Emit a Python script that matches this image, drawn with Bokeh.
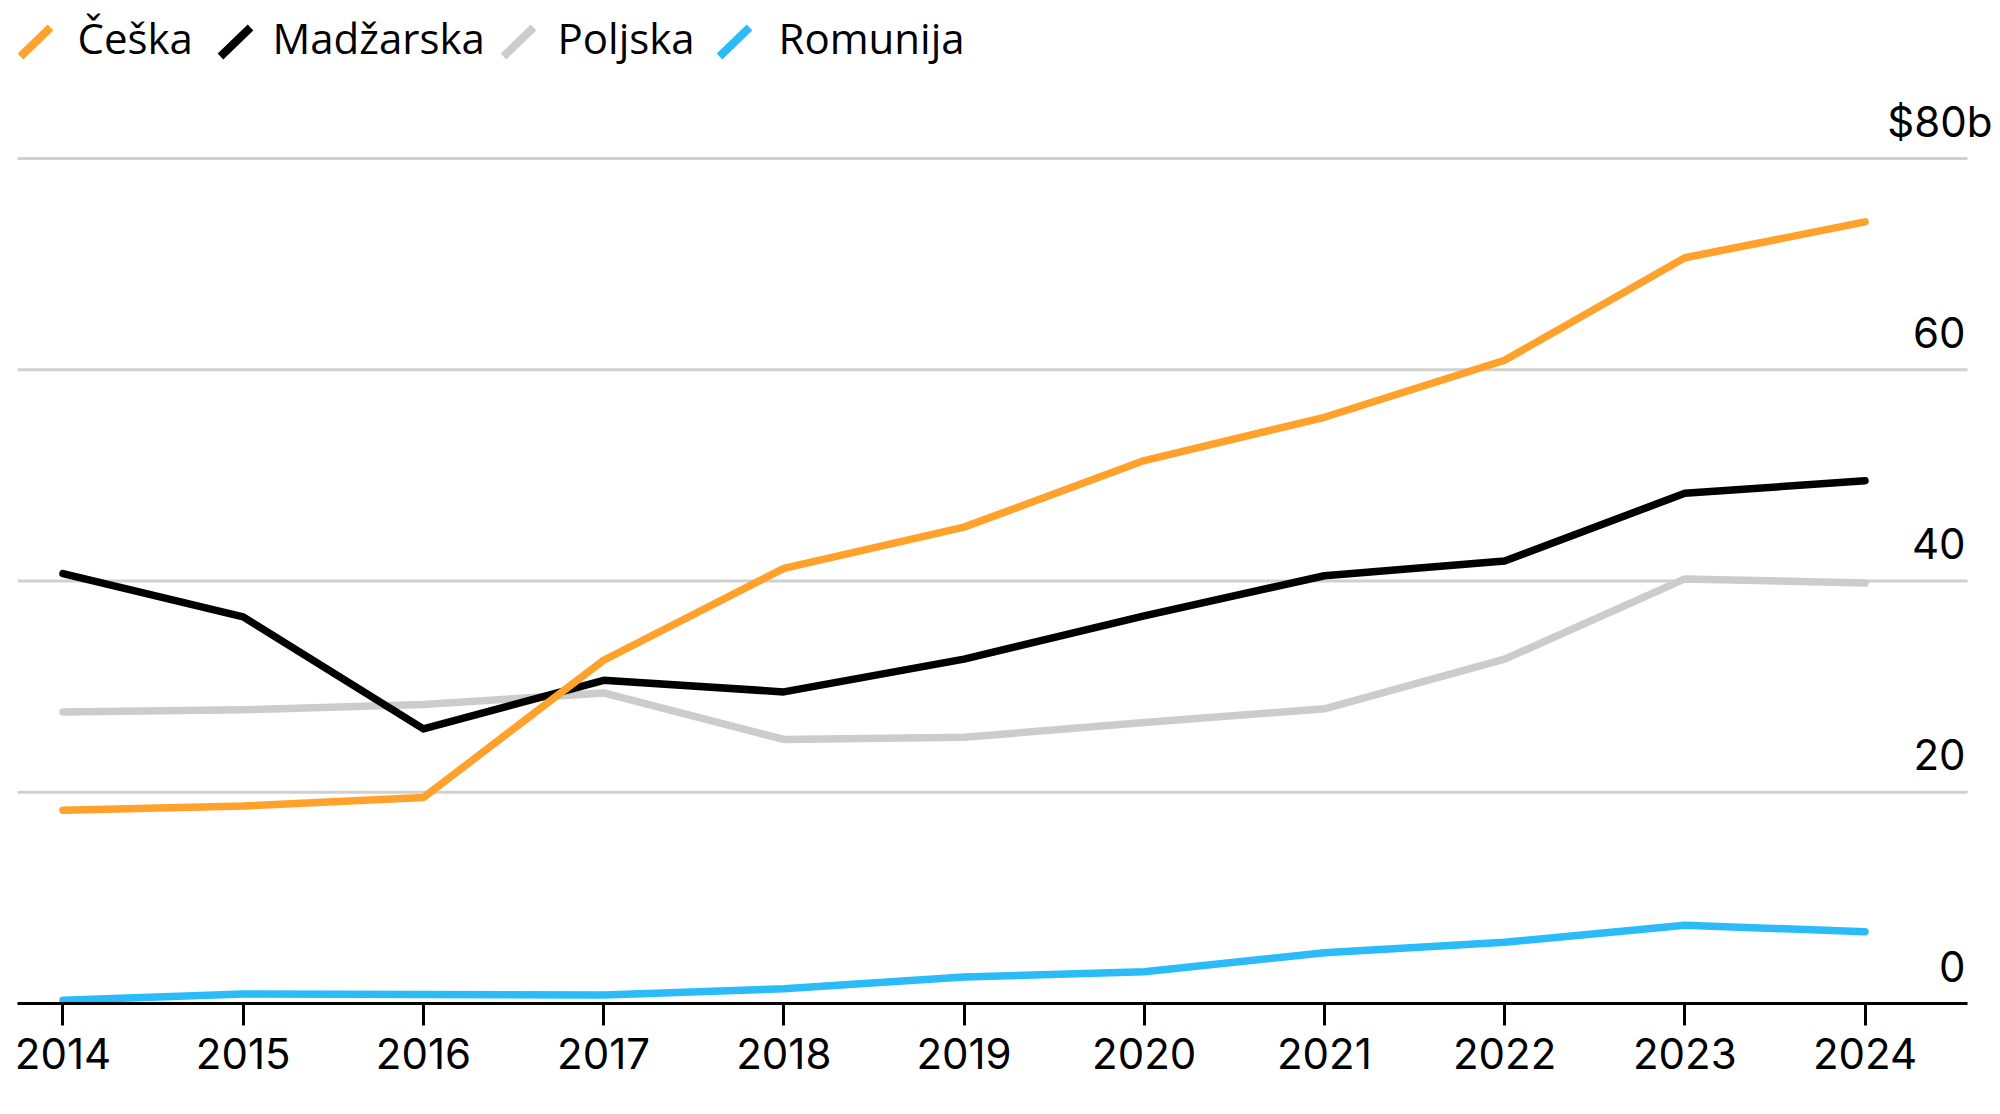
from bokeh.plotting import figure
from bokeh.models import (ColumnDataSource, Range1d, FixedTicker, LabelSet)
from bokeh.layouts import column
from bokeh.core.properties import value
from bokeh.embed import file_html
from bokeh.resources import INLINE

# ---------------- data ----------------
years = [2014, 2015, 2016, 2017, 2018, 2019, 2020, 2021, 2022, 2023, 2024]
year_labels = [str(y) for y in years]

ceska = [18.3, 18.7, 19.5, 32.5, 41.2, 45.1, 51.4, 55.5, 60.9, 70.6, 74.0]
madzarska = [40.7, 36.6, 26.0, 30.6, 29.5, 32.6, 36.7, 40.5, 41.9, 48.3, 49.5]
poljska = [27.6, 27.8, 28.3, 29.4, 25.0, 25.2, 26.6, 27.9, 32.6, 40.2, 39.8]
romunija = [0.3, 0.9, 0.85, 0.8, 1.4, 2.5, 3.0, 4.8, 5.8, 7.4, 6.8]

series_names = ["Češka", "Madžarska", "Poljska", "Romunija"]
series_colors = ["#FFA12B", "#000000", "#CCCCCC", "#2BBBF9"]

y_ticks = [0, 20, 40, 60, 80]
y_tick_labels = ["0", "20", "40", "60", "$80b"]

TOTAL_W = 1992
LEFT = 17
FRAME_W = TOTAL_W - LEFT

# ---------------- legend (separate strip above the chart) ----------------
LEG_H = 88
leg = figure(frame_width=FRAME_W, frame_height=LEG_H, output_backend="svg",
             toolbar_location=None,
             x_range=Range1d(LEFT, TOTAL_W), y_range=Range1d(LEG_H, 0),
             x_axis_location=None, y_axis_location=None,
             min_border_left=LEFT, min_border_right=0, min_border_top=0,
             min_border_bottom=0, outline_line_color=None)
leg.grid.visible = False

swatch_left = [17, 217, 500, 716]
text_left = [77, 272, 557, 778]
leg_src = ColumnDataSource(dict(
    x0=[s + 3 for s in swatch_left], x1=[s + 33 for s in swatch_left],
    y0=[56] * 4, y1=[27] * 4, color=series_colors,
    tx=text_left, ty=[37] * 4, name=series_names))
leg.segment(x0="x0", y0="y0", x1="x1", y1="y1", color="color", line_width=8,
            line_cap="butt", source=leg_src)
leg.text(x="tx", y="ty", text="name", source=leg_src, text_font=value("Open Sans"),
         text_font_size="42px", text_baseline="alphabetic", text_align="left",
         text_color="#000000")

# ---------------- main chart ----------------
PX_PER_YEAR = 180.25
PX_PER_UNIT = 10.5625
x_start = 2014 - 45.5 / PX_PER_YEAR
grid_end = 2024 + 102.5 / PX_PER_YEAR
x_end = 2024 + 127.5 / PX_PER_YEAR
y_end = 80 + 70 / PX_PER_UNIT

p = figure(output_backend="svg", toolbar_location=None,
           frame_width=FRAME_W, frame_height=915,
           x_range=Range1d(x_start, x_end), y_range=Range1d(0, y_end),
           min_border_left=LEFT, min_border_right=0, min_border_top=0,
           min_border_bottom=111, outline_line_color=None)

p.xgrid.visible = False
p.ygrid.visible = False
p.yaxis.visible = False

# horizontal gridlines ending where the axis line ends
grid_src = ColumnDataSource(dict(y=y_ticks, x0=[x_start] * len(y_ticks),
                                 x1=[grid_end] * len(y_ticks)))
p.segment(x0="x0", x1="x1", y0="y", y1="y", source=grid_src,
          line_color="#D0D0D0", line_width=3, level="underlay")

xa = p.xaxis[0]
xa.ticker = FixedTicker(ticks=years)
xa.bounds = (x_start, grid_end)
xa.major_label_overrides = {y: l for y, l in zip(years, year_labels)}
xa.axis_line_color = "#000000"
xa.axis_line_width = 3
xa.major_tick_line_color = "#000000"
xa.major_tick_line_width = 3
xa.major_tick_in = 0
xa.major_tick_out = 22
xa.minor_tick_line_color = None
xa.major_label_text_font = "Inter"
xa.major_label_text_font_size = "42px"
xa.major_label_text_color = "#000000"
xa.major_label_standoff = 12

data = dict(x=years, ceska=ceska, madzarska=madzarska, poljska=poljska, romunija=romunija)
src = ColumnDataSource(data)
order = [("poljska", 2), ("romunija", 3), ("madzarska", 1), ("ceska", 0)]
for col, idx in order:
    p.line(x="x", y=col, source=src, line_color=series_colors[idx], line_width=7.5,
           line_cap="round", line_join="round")

lab_src = ColumnDataSource(dict(
    x=[grid_end] * len(y_ticks), y=y_ticks, text=y_tick_labels,
    xo=[-2, -2, -2, -2, 25]))
labels = LabelSet(x="x", y="y", text="text", source=lab_src, x_offset="xo", y_offset=22,
                  text_align="right", text_baseline="alphabetic",
                  text_font=value("Inter"), text_font_size="42px", text_color="#000000")
p.add_layout(labels)

layout = column(leg, p, spacing=0)
open("out.html", "w").write(file_html(layout, INLINE))
